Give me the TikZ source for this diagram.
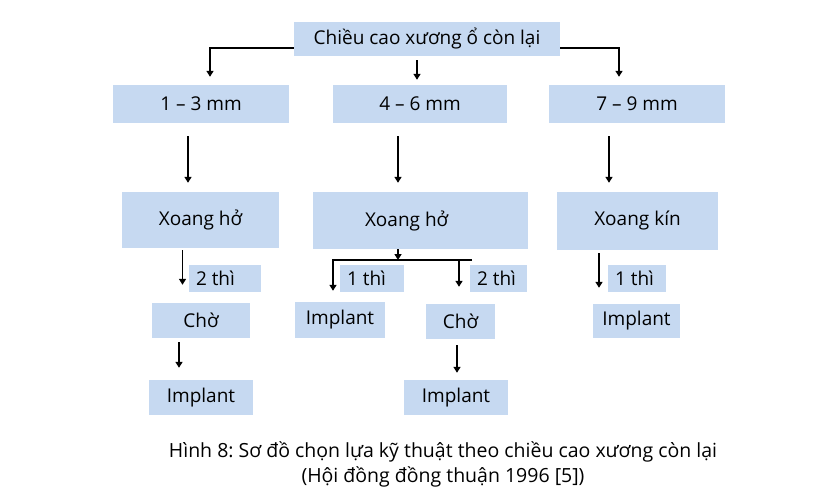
\documentclass[tikz,border=0pt]{standalone}
\usepackage{fontspec}
\setmainfont{Open Sans}
\frenchspacing
\usepackage{tikz}
\usetikzlibrary{positioning}
\usetikzlibrary{arrows.meta}
\definecolor{boxblue}{RGB}{198,217,241}

\begin{document}
\begin{tikzpicture}[x=1pt, y=-1pt,
		box/.style={fill=boxblue, inner sep=0pt, font=\fontsize{19}{24}\selectfont},
		tag/.style={box, inner xsep=7pt, text width=#1, align=flush left, minimum height=27pt},
		arr/.style={line width=1.7pt, -{Triangle[length=6pt, width=7pt]}}]
		\useasboundingbox (0,0) rectangle (840,500);
		% first two rows
		\node at (427,39) [box, minimum width=266pt, minimum height=34pt] (height) {Chiều cao xương ổ còn lại};
		\node at (201,104) [box, minimum width=176pt, minimum height=38pt] (low) {1 – 3 mm};
		\node at (420,104) [box, minimum width=174pt, minimum height=38pt] (mid) {4 – 6 mm};
		\node at (637,104) [box, minimum width=176pt, minimum height=38pt] (high) {7 – 9 mm};
		\node at (200.5,220) [box, minimum width=157pt, minimum height=56pt] (lowsinus) {Xoang hở};
		\node at (420.5,220.5) [box, minimum height=57pt, inner xsep=52pt, text width=111pt, align=flush left] (midsinus) {Xoang hở};
		\node at (637.5,221) [box, minimum width=161pt, minimum height=58pt] (highsinus) {Xoang kín};
		% 1 - 3 mm
		\node at (225,278.5) [tag=58pt] (lowtwo) {2 thì};
		\node at (201,320.5) [box, minimum width=98pt, minimum height=35pt] (lowwait) {Chờ};
		\node at (201,397.5) [box, minimum width=104pt, minimum height=35pt] (lowimp) {Implant};
		% 4 - 6 mm
		\node at (372,278.5) [tag=50pt] (midone) {1 thì};
		\node at (498.5,278.5) [tag=43pt] (midtwo) {2 thì};
		\node at (340,320) [box, minimum width=90pt, minimum height=36pt] (midimp) {Implant};
		\node at (460.5,321.5) [box, minimum width=69pt, minimum height=35pt] (midwait) {Chờ};
		\node at (456,397.5) [box, minimum width=104pt, minimum height=35pt] (midlate) {Implant};
		% 7 - 9 mm
		\node at (637,278.5) [tag=44pt] (highone) {1 thì};
		\node at (636.5,321) [box, minimum width=87pt, minimum height=34pt] (highimp) {Implant};
		\node at (443,464.5) [font=\fontsize{19.5}{25}\selectfont, align=center] (caption) {Hình 8: Sơ đồ chọn lựa kỹ thuật theo chiều cao xương còn lại\\(Hội đồng đồng thuận 1996 [5])};

		\draw [arr, shorten >=8pt] ([yshift=-9pt]height.west) -| ([xshift=9pt]low.north);
		\draw [arr, shorten <=4pt, shorten >=5pt] ([xshift=-10pt]height.south) -- ([xshift=-3pt]mid.north);
		\draw [arr, shorten >=8pt] ([yshift=-9pt]height.east) -| ([xshift=-18pt]high.north);
		\foreach \from/\to/\dx in {low/lowsinus/-13, mid/midsinus/-22, high/highsinus/-28} {
			\draw [arr, shorten <=13pt, shorten >=9pt] ([xshift=\dx pt]\from.south) -- ([xshift=\dx pt]\from.south |- \to.north);
		}
		\draw [arr, shorten <=2pt, shorten >=18pt] ([xshift=-18pt]lowsinus.south) -- ([xshift=-18pt]lowsinus.south |- lowwait.north);
		\draw [arr, shorten <=4pt, shorten >=12pt] ([xshift=-22pt]lowwait.south) -- ([xshift=-22pt]lowwait.south |- lowimp.north);
		\coordinate (fork) at (398,260);
		\coordinate (forkl) at (333,260);
		\coordinate (forkr) at (472,260);
		\coordinate (forkd) at (459,260);
		\draw [arr] (fork |- midsinus.south) -- (fork);
		\draw [arr, shorten >=11pt] (forkr) -- (forkl) -- (forkl |- midimp.north);
		\draw [arr, shorten >=17pt] (forkd) -- (forkd |- midwait.north);
		\draw [arr, shorten <=6pt, shorten >=7pt] ([xshift=-3.5pt]midwait.south) -- ([xshift=-3.5pt]midwait.south |- midlate.north);
		\draw [arr, shorten <=3pt, shorten >=16pt] ([xshift=-38.5pt]highsinus.south) -- ([xshift=-38.5pt]highsinus.south |- highimp.north);
\end{tikzpicture}
\end{document}
